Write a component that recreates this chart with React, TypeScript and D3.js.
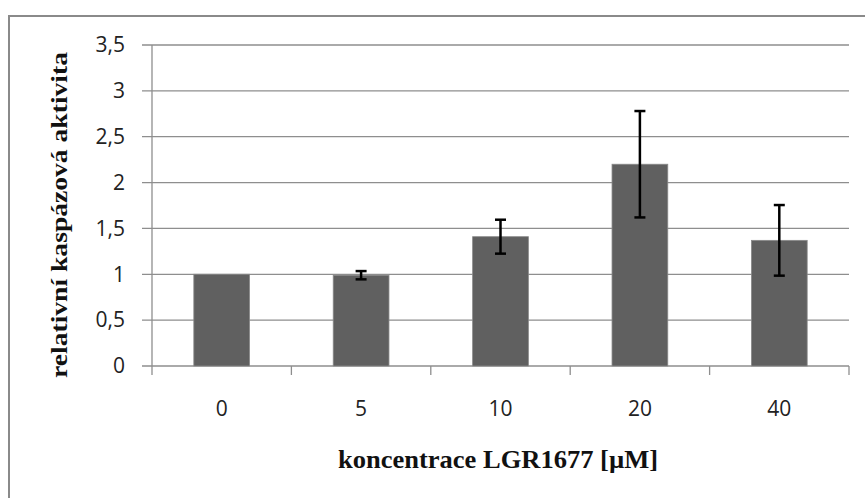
import React from 'react'
import * as d3 from 'd3'

const categories = ['0', '5', '10', '20', '40']
const values = [1, 0.99, 1.41, 2.2, 1.37]
const errors = [0, 0.045, 0.185, 0.58, 0.385]
const yTicks = [0, 0.5, 1, 1.5, 2, 2.5, 3, 3.5]

const W = 865
const H = 498

export default function App() {
  const x = d3.scaleBand<string>().domain(categories).range([152, 849]).paddingInner(0.6).paddingOuter(0.3)
  const y = d3.scaleLinear().domain([0, 3.5]).range([366, 45])
  const step = x.step()
  const grid = '#8e8e8e'
  const tickFont = '"Open Sans", sans-serif'
  const titleFont = '"Liberation Serif", "Times New Roman", serif'
  const fmt = (v: number) => String(v).replace('.', ',')

  return (
    <svg width={W} height={H} style={{ position: 'absolute', left: 0, top: 0, background: '#fff' }}>
      {/* outer chart border */}
      <rect x={9} y={16} width={W + 20} height={H + 20} fill="none" stroke="#8a8a8a" strokeWidth={2} />

      {/* gridlines + y ticks */}
      {yTicks.map(t => (
        <g key={t}>
          <line x1={142} x2={849} y1={y(t)} y2={y(t)} stroke={grid} strokeWidth={1.3} />
          <text x={125} y={y(t)} dy="0.35em" textAnchor="end" fontFamily={tickFont} fontSize={21} fill="#222">{fmt(t)}</text>
        </g>
      ))}

      {/* y axis */}
      <line x1={152} x2={152} y1={45} y2={366} stroke={grid} strokeWidth={1.3} />

      {/* x ticks at band boundaries */}
      {d3.range(categories.length + 1).map(i => (
        <line key={i} x1={152 + i * step} x2={152 + i * step} y1={366} y2={375} stroke={grid} strokeWidth={1.3} />
      ))}

      {/* bars */}
      {categories.map((c, i) => (
        <rect key={c} x={x(c)} y={y(values[i])} width={x.bandwidth()} height={y(0) - y(values[i])}
          fill="#606060" stroke="#8a8a8a" strokeWidth={0.8} />
      ))}

      {/* error bars */}
      {categories.map((c, i) => {
        if (!errors[i]) return null
        const cx = (x(c) ?? 0) + x.bandwidth() / 2
        const top = y(values[i] + errors[i])
        const bot = y(values[i] - errors[i])
        return (
          <g key={c} stroke="#000" strokeWidth={2.5}>
            <line x1={cx} x2={cx} y1={top} y2={bot} />
            <line x1={cx - 5.5} x2={cx + 5.5} y1={top} y2={top} />
            <line x1={cx - 5.5} x2={cx + 5.5} y1={bot} y2={bot} />
          </g>
        )
      })}

      {/* x tick labels */}
      {categories.map(c => (
        <text key={c} x={(x(c) ?? 0) + x.bandwidth() / 2} y={416} textAnchor="middle" fontFamily={tickFont} fontSize={21} fill="#222">{c}</text>
      ))}

      {/* axis titles */}
      <text x={498} y={468} textAnchor="middle" fontFamily={titleFont} fontWeight="bold" fontSize={25}
        textLength={320} lengthAdjust="spacingAndGlyphs" fill="#111">koncentrace LGR1677 [µM]</text>
      <text transform="translate(67,215) rotate(-90)" textAnchor="middle" fontFamily={titleFont} fontWeight="bold" fontSize={23}
        textLength={326} lengthAdjust="spacingAndGlyphs" fill="#111">relativní kaspázová aktivita</text>
    </svg>
  )
}
